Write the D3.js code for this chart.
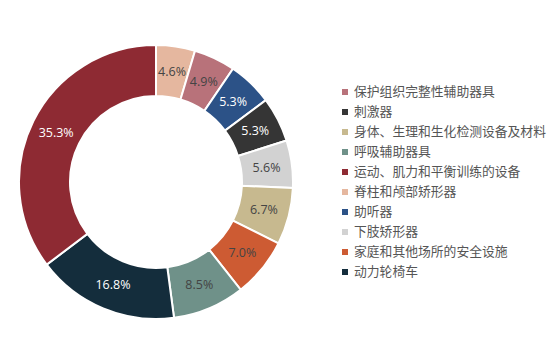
<!DOCTYPE html>
<html><head><meta charset="utf-8">
<script src="https://cdn.jsdelivr.net/npm/d3@7"></script>
<style>body{margin:0;background:#fff}</style>
</head><body>
<svg id="c" width="560" height="360"></svg>
<script>
// slices in clockwise order from 12 o'clock
const categories = ["脊柱和颅部矫形器","保护组织完整性辅助器具","助听器","刺激器","下肢矫形器","身体、生理和生化检测设备及材料","家庭和其他场所的安全设施","呼吸辅助器具","动力轮椅车","运动、肌力和平衡训练的设备"];
const values = [4.6,4.9,5.3,5.3,5.6,6.7,7.0,8.5,16.8,35.3];
const colors = ["#E5B79F","#B8727A","#2C5287","#353535","#D2D2D2","#C7B98F","#CD5B33","#6F9189","#142D3C","#8E2A33"];
const labelColors = ["#444","#444","#fff","#fff","#444","#444","#444","#444","#fff","#fff"];
const legendOrder = ["保护组织完整性辅助器具","刺激器","身体、生理和生化检测设备及材料","呼吸辅助器具","运动、肌力和平衡训练的设备","脊柱和颅部矫形器","助听器","下肢矫形器","家庭和其他场所的安全设施","动力轮椅车"];

const svg = d3.select("#c");
const cx = 156, cy = 182, R = 137, r = 86;
const data = categories.map((c,i)=>({cat:c,value:values[i],color:colors[i],lc:labelColors[i]}));
const pie = d3.pie().value(d=>d.value).sort(null);
const arc = d3.arc().innerRadius(r).outerRadius(R);
const g = svg.append("g").attr("transform",`translate(${cx},${cy})`);
const arcs = pie(data);
g.selectAll("path").data(arcs).join("path")
  .attr("d",arc).attr("fill",d=>d.data.color)
  .attr("stroke","#fff").attr("stroke-width",2);
g.selectAll("text").data(arcs).join("text")
  .attr("transform",d=>`translate(${arc.centroid(d)})`)
  .attr("text-anchor","middle").attr("dy","0.35em")
  .attr("font-family","'Open Sans','Noto Sans',sans-serif").attr("font-size",12.5)
  .attr("fill",d=>d.data.lc)
  .text(d=>d.data.value.toFixed(1)+"%");

const colorOf = Object.fromEntries(data.map(d=>[d.cat,d.color]));
const lg = svg.append("g").attr("transform","translate(342,92)");
const item = lg.selectAll("g").data(legendOrder).join("g")
  .attr("transform",(d,i)=>`translate(0,${i*20})`);
item.append("rect").attr("x",0).attr("y",-3).attr("width",6).attr("height",6).attr("fill",d=>colorOf[d]);
item.append("text").attr("x",12).attr("dy","0.35em")
  .attr("font-family","'Noto Sans CJK SC',sans-serif").attr("font-size",12.8)
  .attr("fill","#555").text(d=>d);
</script>
</body></html>
